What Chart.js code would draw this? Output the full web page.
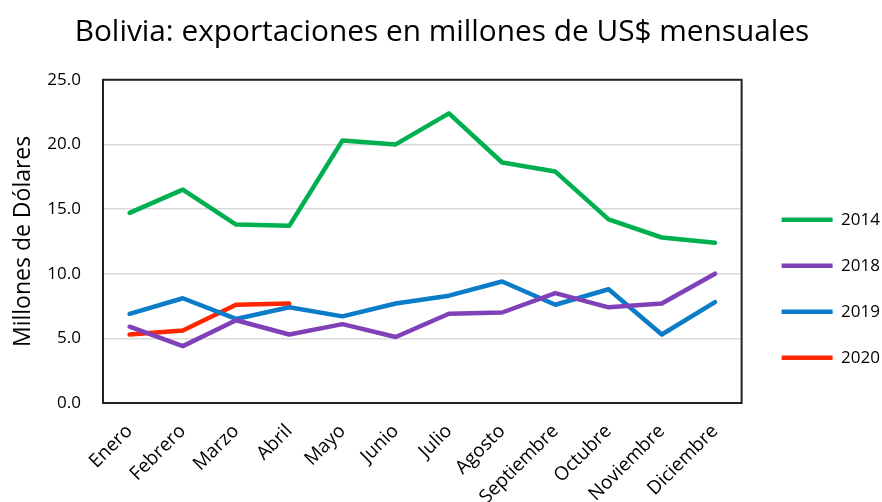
<!DOCTYPE html>
<html>
<head>
<meta charset="utf-8">
<script src="https://cdn.jsdelivr.net/npm/chart.js@4"></script>
<style>
  body { margin: 0; background: #fff; }
  #wrap { width: 882px; height: 502px; }
</style>
</head>
<body>
<div id="wrap"><canvas id="exportChart"></canvas></div>
<script>
const months = ['Enero', 'Febrero', 'Marzo', 'Abril', 'Mayo', 'Junio', 'Julio', 'Agosto', 'Septiembre', 'Octubre', 'Noviembre', 'Diciembre'];
const years = ['2014', '2018', '2019', '2020'];
const exp2014 = [14.7, 16.5, 13.8, 13.7, 20.3, 20.0, 22.4, 18.6, 17.9, 14.2, 12.8, 12.4];
const exp2018 = [5.9, 4.4, 6.4, 5.3, 6.1, 5.1, 6.9, 7.0, 8.5, 7.4, 7.7, 10.0];
const exp2019 = [6.9, 8.1, 6.5, 7.4, 6.7, 7.7, 8.3, 9.4, 7.6, 8.8, 5.3, 7.8];
const exp2020 = [5.3, 5.6, 7.6, 7.7];
const yTicks = [0, 5, 10, 15, 20, 25];

const colors = ['#00b050', '#8040b8', '#0a7cc8', '#ff2600'];
const series = [exp2014, exp2018, exp2019, exp2020];

const font = '"Open Sans", sans-serif';

new Chart(document.getElementById('exportChart'), {
    type: 'line',
    data: {
        labels: months,
        datasets: series.map((vals, i) => ({
            label: years[i],
            data: vals,
            borderColor: colors[i],
            backgroundColor: colors[i],
            borderWidth: 4.5,
            borderCapStyle: 'round',
            borderJoinStyle: 'round',
            pointRadius: 0,
            tension: 0
        }))
    },
    options: {
        responsive: true,
        maintainAspectRatio: false,
        animation: false,
        // legend.fit adds 10px on its right, the negative pads keep the title centred
        layout: { padding: { top: 15, right: -8, left: -6, bottom: 0 } },
        plugins: {
            title: {
                display: true,
                text: 'Bolivia: exportaciones en millones de US$ mensuales',
                color: '#000',
                font: { family: font, size: 29.8, weight: 'normal' },
                padding: { top: 0, bottom: 29 }
            },
            legend: {
                position: 'right',
                align: 'center',
                // empty title only pushes the items down
                title: { display: true, text: '', padding: { top: 46 } },
                labels: {
                    color: '#000',
                    font: { family: font, size: 17 },
                    usePointStyle: true,
                    pointStyle: 'line',
                    pointStyleWidth: 51,
                    padding: 29
                }
            },
            tooltip: { enabled: false }
        },
        scales: {
            x: {
                offset: true,
                grid: { display: false, drawTicks: false },
                border: { display: true, color: '#222', width: 2 },
                ticks: {
                    color: '#000',
                    font: { family: font, size: 19 },
                    minRotation: 45,
                    maxRotation: 45,
                    padding: 17
                },
                afterFit: (scale) => {
                    scale.height = 99;
                    scale.paddingLeft = 0;
                    scale.paddingRight = 0;
                }
            },
            y: {
                min: 0,
                max: 25,
                afterBuildTicks: (scale) => { scale.ticks = yTicks.map(v => ({ value: v })); },
                grid: { color: '#d9d9d9', lineWidth: 1.5, drawTicks: false },
                border: { display: true, color: '#222', width: 2 },
                ticks: {
                    color: '#000',
                    font: { family: font, size: 17 },
                    padding: 22,
                    callback: (v) => v.toFixed(1)
                },
                title: {
                    display: true,
                    text: 'Millones de Dólares',
                    color: '#000',
                    font: { family: font, size: 23 },
                    padding: { top: 16, bottom: 10 }
                },
                afterFit: (scale) => { scale.width = 109; }
            },
            // spacer between plot and legend
            gap: {
                position: 'right',
                grid: { display: false, drawTicks: false },
                border: { display: false },
                ticks: { display: false },
                afterFit: (scale) => { scale.width = 11; }
            }
        }
    },
    plugins: [{
        id: 'frame',
        afterDatasetsDraw(chart) {
            const { ctx, chartArea: a } = chart;
            ctx.save();
            ctx.strokeStyle = '#222';
            ctx.lineWidth = 2;
            ctx.strokeRect(a.left, a.top, a.right - a.left, a.bottom - a.top);
            ctx.restore();
        }
    }]
});
</script>
</body>
</html>
